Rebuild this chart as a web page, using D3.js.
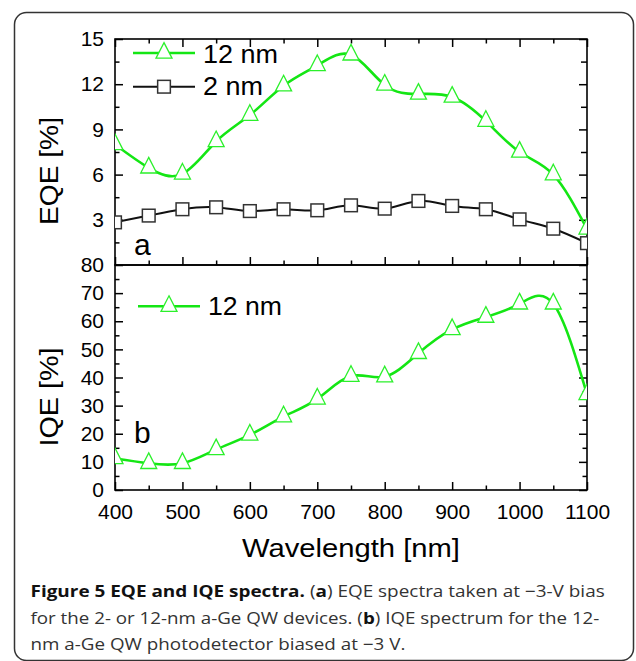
<!DOCTYPE html>
<html><head><meta charset="utf-8">
<script src="https://cdn.jsdelivr.net/npm/d3@7"></script>
<style>body{margin:0;background:#fff}svg{display:block}</style>
</head><body>
<svg id="c" width="636" height="661"></svg>
<script>
// ---- data ----
const wavelengths = [400,450,500,550,600,650,700,750,800,850,900,950,1000,1050,1100];
const eqe12nm = [8.0,6.45,6.05,8.2,9.95,11.9,13.25,13.95,11.95,11.35,11.15,9.55,7.5,6.0,2.4];
const eqe2nm  = [2.83,3.28,3.7,3.83,3.58,3.7,3.63,3.96,3.74,4.25,3.92,3.7,3.03,2.41,1.45];
const iqe12nm = [11.2,9.5,9.5,14.4,19.6,26.1,32.4,40.5,40.3,48.6,57.1,61.5,66.2,66.2,34.0];
const xTicks = [400,500,600,700,800,900,1000,1100];
const xMinor = [450,550,650,750,850,950,1050];
const eqeTicks = [3,6,9,12,15];
const eqeMinor = [1.5,4.5,7.5,10.5,13.5];
const iqeTicks = [0,10,20,30,40,50,60,70,80];
const iqeMinor = [5,15,25,35,45,55,65,75];
const legendA = ["12 nm","2 nm"];
const legendB = ["12 nm"];
const titles = {x:"Wavelength [nm]", ya:"EQE [%]", yb:"IQE [%]"};

const FONT = "'Liberation Sans', Arial, sans-serif";
const GREEN = "#14e614", GREEN_M = "#2bf02b";
const svg = d3.select("#c");
const fmt = d => String(d);

// outer box
svg.append("rect").attr("x",14.5).attr("y",12.5).attr("width",619).attr("height",648)
  .attr("rx",12).attr("fill","none").attr("stroke","#333").attr("stroke-width",1.5);

const x  = d3.scaleLinear().domain([400,1100]).range([115,587]);
const ya = d3.scaleLinear().domain([0,15]).range([265,39]);
const yb = d3.scaleLinear().domain([0,80]).range([490,265]);

function styleAxis(g){
  g.select(".domain").remove();
  g.selectAll("line").attr("stroke","#000").attr("stroke-width",1.5);
  g.selectAll("text").attr("font-family",FONT).attr("font-size",21).attr("fill","#000");
}
function addAxis(gen, tx, ty){
  const g = svg.append("g").attr("transform",`translate(${tx},${ty})`).call(gen);
  styleAxis(g); return g;
}
const MAJ=-8, MIN=-4.5;
// panel a
addAxis(d3.axisLeft(ya).tickValues(eqeTicks).tickSize(MAJ).tickSizeOuter(0).tickPadding(11).tickFormat(fmt),115,0);
addAxis(d3.axisLeft(ya).tickValues(eqeMinor).tickSize(MIN).tickSizeOuter(0).tickFormat(""),115,0);
addAxis(d3.axisRight(ya).tickValues(eqeTicks).tickSize(MAJ).tickSizeOuter(0).tickFormat(""),587,0);
addAxis(d3.axisRight(ya).tickValues(eqeMinor).tickSize(-6).tickSizeOuter(0).tickFormat(""),587,0);
addAxis(d3.axisTop(x).tickValues(xTicks).tickSize(MAJ).tickSizeOuter(0).tickFormat(""),0,39);
addAxis(d3.axisTop(x).tickValues(xMinor).tickSize(MIN).tickSizeOuter(0).tickFormat(""),0,39);
addAxis(d3.axisBottom(x).tickValues(xTicks).tickSize(MAJ).tickSizeOuter(0).tickFormat(""),0,265);
addAxis(d3.axisBottom(x).tickValues(xMinor).tickSize(MIN).tickSizeOuter(0).tickFormat(""),0,265);
// panel b
addAxis(d3.axisLeft(yb).tickValues(iqeTicks).tickSize(MAJ).tickSizeOuter(0).tickPadding(11).tickFormat(fmt),115,0);
addAxis(d3.axisLeft(yb).tickValues(iqeMinor).tickSize(MIN).tickSizeOuter(0).tickFormat(""),115,0);
addAxis(d3.axisRight(yb).tickValues(iqeTicks).tickSize(MAJ).tickSizeOuter(0).tickFormat(""),587,0);
addAxis(d3.axisRight(yb).tickValues(iqeMinor).tickSize(MIN).tickSizeOuter(0).tickFormat(""),587,0);
addAxis(d3.axisBottom(x).tickValues(xTicks).tickSize(MAJ).tickSizeOuter(0).tickPadding(14).tickFormat(fmt),0,490);
addAxis(d3.axisBottom(x).tickValues(xMinor).tickSize(MIN).tickSizeOuter(0).tickFormat(""),0,490);

// frames
svg.append("rect").attr("x",x(400)).attr("y",ya(15)).attr("width",x(1100)-x(400)).attr("height",ya(0)-ya(15))
  .attr("fill","none").attr("stroke","#000").attr("stroke-width",1.6);
svg.append("rect").attr("x",x(400)).attr("y",yb(80)).attr("width",x(1100)-x(400)).attr("height",yb(0)-yb(80))
  .attr("fill","none").attr("stroke","#000").attr("stroke-width",1.6);

// clips
const defs = svg.append("defs");
defs.append("clipPath").attr("id","ca").append("rect")
  .attr("x",x(400)).attr("y",ya(15)).attr("width",x(1100)-x(400)).attr("height",ya(0)-ya(15));
defs.append("clipPath").attr("id","cb").append("rect")
  .attr("x",x(400)).attr("y",yb(80)).attr("width",x(1100)-x(400)).attr("height",yb(0)-yb(80));

const tri = "M0,-10.4L8,5.2L-8,5.2Z";
const sq = 6.35;
function series(clip, yScale, vals, kind){
  const g = svg.append("g").attr("clip-path",`url(#${clip})`);
  const pts = wavelengths.map((w,i)=>[w,vals[i]]);
  const line = d3.line().x(d=>x(d[0])).y(d=>yScale(d[1])).curve(d3.curveNatural);
  g.append("path").attr("d",line(pts)).attr("fill","none")
    .attr("stroke", kind==="tri"?GREEN:"#111").attr("stroke-width", kind==="tri"?2.6:2);
  if(kind==="tri"){
    g.selectAll(null).data(pts).enter().append("path").attr("d",tri)
      .attr("transform",d=>`translate(${x(d[0])},${yScale(d[1])})`)
      .attr("fill","#fff").attr("stroke",GREEN_M).attr("stroke-width",1.3);
  } else {
    g.selectAll(null).data(pts).enter().append("rect")
      .attr("x",d=>x(d[0])-sq).attr("y",d=>yScale(d[1])-sq).attr("width",2*sq).attr("height",2*sq)
      .attr("fill","#fff").attr("stroke","#333").attr("stroke-width",1.5);
  }
}
series("ca", ya, eqe2nm, "sq");
series("ca", ya, eqe12nm, "tri");
series("cb", yb, iqe12nm, "tri");

// legends
function legendItem(x0,x1,yl,label,kind,tx,ty,tl){
  svg.append("line").attr("x1",x0).attr("x2",x1).attr("y1",yl).attr("y2",yl)
    .attr("stroke",kind==="tri"?GREEN:"#111").attr("stroke-width",kind==="tri"?2.6:2);
  const cx=(x0+x1)/2;
  if(kind==="tri") svg.append("path").attr("d",tri).attr("transform",`translate(${cx},${yl})`)
      .attr("fill","#fff").attr("stroke",GREEN_M).attr("stroke-width",1.3);
  else svg.append("rect").attr("x",cx-sq).attr("y",yl-sq).attr("width",2*sq).attr("height",2*sq)
      .attr("fill","#fff").attr("stroke","#333").attr("stroke-width",1.5);
  svg.append("text").attr("x",tx).attr("y",ty).attr("font-family",FONT).attr("font-size",25)
    .attr("textLength",tl).attr("lengthAdjust","spacingAndGlyphs").text(label);
}
legendItem(133,195,53,legendA[0],"tri",203,62.7,75);
legendItem(133,195,86.7,legendA[1],"sq",203,95,60);
legendItem(138,200,306.2,legendB[0],"tri",208,315,74);

// panel letters
svg.append("text").attr("x",134).attr("y",255).attr("font-family",FONT).attr("font-size",30).text("a");
svg.append("text").attr("x",134).attr("y",442.5).attr("font-family",FONT).attr("font-size",30).text("b");

// axis titles
svg.append("text").attr("x",351).attr("y",557).attr("text-anchor","middle").attr("font-family",FONT)
  .attr("font-size",25).attr("textLength",218).attr("lengthAdjust","spacingAndGlyphs").text(titles.x);
svg.append("text").attr("transform","translate(58,171) rotate(-90)").attr("text-anchor","middle")
  .attr("font-family",FONT).attr("font-size",25).attr("textLength",108).attr("lengthAdjust","spacingAndGlyphs").text(titles.ya);
svg.append("text").attr("transform","translate(58,397) rotate(-90)").attr("text-anchor","middle")
  .attr("font-family",FONT).attr("font-size",25).attr("textLength",99).attr("lengthAdjust","spacingAndGlyphs").text(titles.yb);

// caption
const CFONT = "'Open Sans', 'Noto Sans', sans-serif";
const capLines = [
  {y:597, w:574.5, parts:[["Figure 5 EQE and IQE spectra.",true],[" (",false],["a",true],[") EQE spectra taken at \u22123-V bias",false]]},
  {y:623.5, w:569, parts:[["for the 2- or 12-nm a-Ge QW devices. (",false],["b",true],[") IQE spectrum for the 12-",false]]},
  {y:650, w:375, parts:[["nm a-Ge QW photodetector biased at \u22123 V.",false]]}
];
capLines.forEach(L=>{
  const t = svg.append("text").attr("x",0).attr("y",0).attr("font-family",CFONT).attr("font-size",16.5).attr("fill","#333");
  L.parts.forEach(p=>{
    t.append("tspan").attr("font-weight",p[1]?"bold":"normal").attr("fill",p[1]?"#111":"#333").text(p[0]);
  });
  const w = t.node().getComputedTextLength();
  t.attr("transform",`translate(30.5,${L.y}) scale(${L.w/w},1)`);
});
</script>
</body></html>
